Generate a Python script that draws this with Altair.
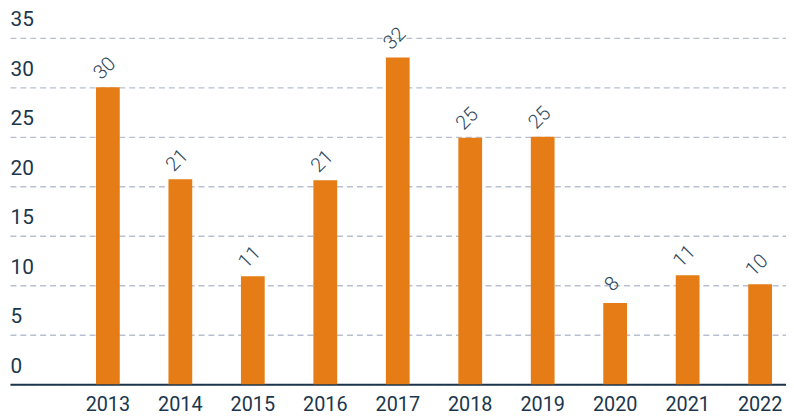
import altair as alt
import pandas as pd

years = ["2013", "2014", "2015", "2016", "2017", "2018", "2019", "2020", "2021", "2022"]
values = [30, 20.7, 10.9, 20.6, 33, 24.9, 25, 8.2, 11, 10.1]
labels = ["30", "21", "11", "21", "32", "25", "25", "8", "11", "10"]
y_ticks = [0, 5, 10, 15, 20, 25, 30, 35]

df = pd.DataFrame({"year": years, "value": values, "label": labels})

FONT = "Roboto"
TEXT = "#1b364c"
ORANGE = "#E57C16"

base = alt.Chart(df).encode(
    x=alt.X(
        "year:N",
        sort=None,
        scale=alt.Scale(paddingInner=0.672, paddingOuter=0.69, align=0.86),
        axis=alt.Axis(
            title=None, labelAngle=0, ticks=False, grid=False,
            domainColor="#1b364c", domainWidth=2,
            labelFont=FONT, labelFontSize=20, labelFontWeight=400, labelColor=TEXT, labelPadding=11,
        ),
    ),
    y=alt.Y(
        "value:Q",
        scale=alt.Scale(domain=[0, 35], nice=False, zero=True),
        axis=alt.Axis(
            title=None, values=y_ticks, ticks=False, domain=False,
            grid=True, gridColor="#b8bfd0", gridDash=[6, 4], gridWidth=1.3,
            labelAlign="left", labelBaseline="bottom", labelPadding=0, labelOffset=-8,
            labelFont=FONT, labelFontSize=21, labelFontWeight=400, labelColor=TEXT,
        ),
    ),
)

bars = base.mark_bar(color=ORANGE)
text = base.mark_text(
    angle=315, align="center", baseline="middle", font=FONT, fontSize=20, fontWeight=300,
    color="#2a465b", xOffset=-3, yOffset=-19,
).encode(text="label:N")

chart = (
    alt.layer(bars, text)
    .properties(width=784, height=350, autosize=alt.AutoSizeParams(type="none"),
                padding={"left": 2, "top": 28, "right": 0, "bottom": 30})
    .configure_view(stroke=None)
)

chart.save("out.html", embed_options={"renderer": "svg", "actions": False})
